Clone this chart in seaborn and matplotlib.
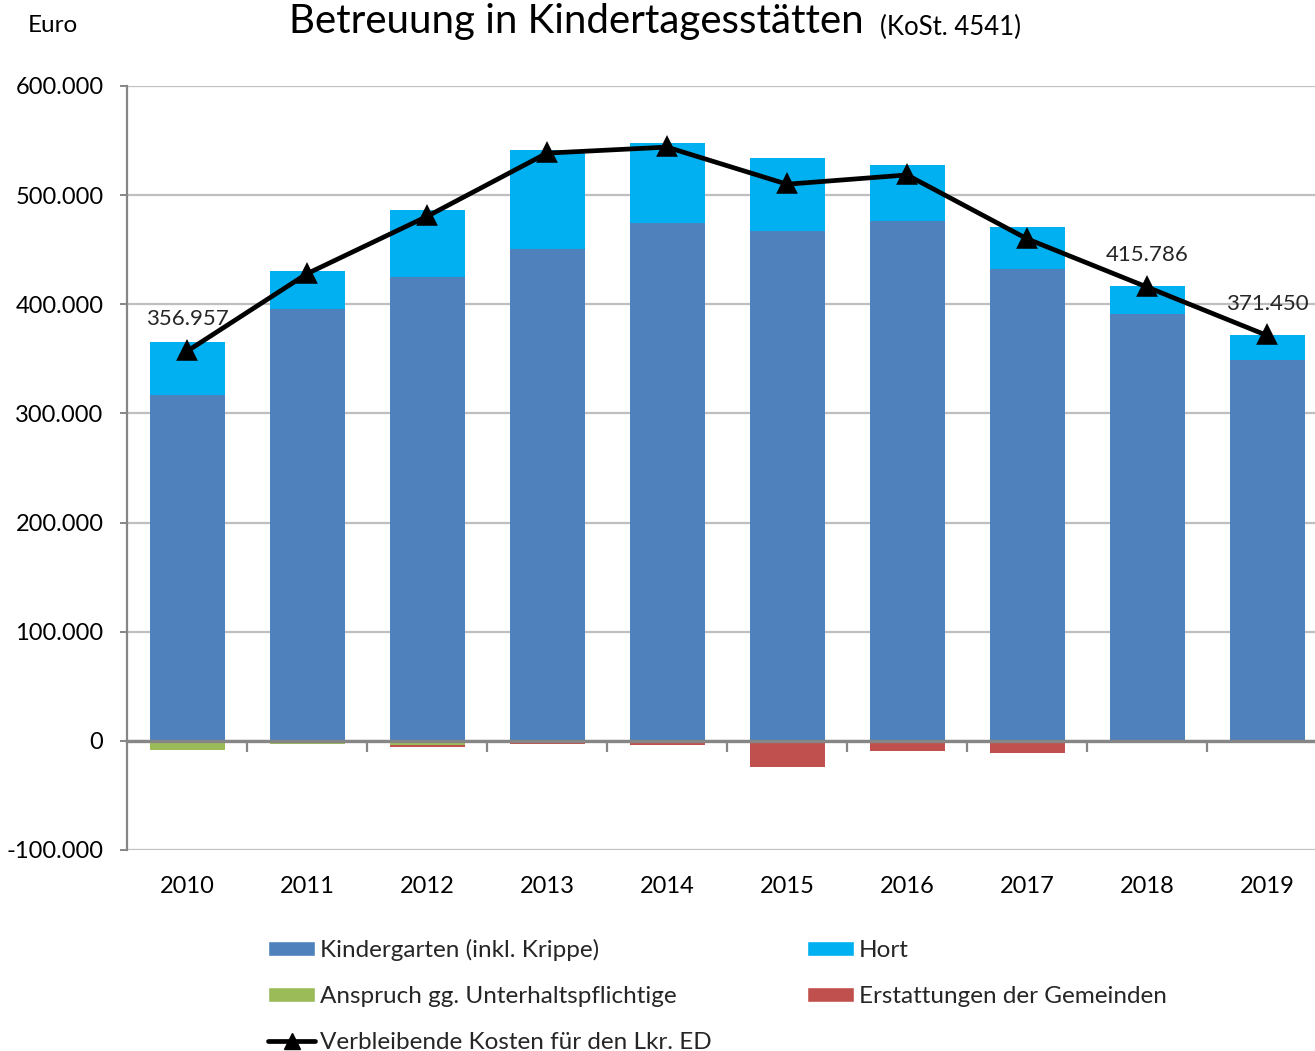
import numpy as np
import pandas as pd
import matplotlib
matplotlib.use("Agg")
import matplotlib.pyplot as plt
import seaborn as sns
from matplotlib.patches import Patch
from matplotlib.lines import Line2D
from matplotlib.ticker import FuncFormatter, FixedLocator

years = ["2010", "2011", "2012", "2013", "2014", "2015", "2016", "2017", "2018", "2019"]
kindergarten = [317000, 395500, 425000, 450500, 474500, 467000, 476000, 432500, 391000, 349000]
hort = [48500, 35000, 61500, 91000, 73500, 67000, 51500, 38500, 25786, 22450]
anspruch = [-8500, -2500, -4000, 0, 0, 0, 0, 0, 0, 0]
erstattungen = [0, 0, -2000, -3000, -4000, -24000, -9000, -11000, 0, 0]
verbleibend = [356957, 428000, 480500, 538500, 544000, 510000, 518500, 460000, 415786, 371450]
labelled_years = ["2010", "2018", "2019"]

series_names = ["Kindergarten (inkl. Krippe)", "Hort", "Anspruch gg. Unterhaltspflichtige",
                "Erstattungen der Gemeinden", "Verbleibende Kosten für den Lkr. ED"]
c_kita, c_hort, c_ansp, c_erst = "#4F81BD", "#00B0F0", "#9BBB59", "#C0504D"

sns.set_theme(style="white")
plt.rcParams["font.family"] = ["Lato", "DejaVu Sans"]

fig = plt.figure(figsize=(13.15, 10.51), dpi=100)
ax = fig.add_axes([127 / 1315, 201 / 1051, 1200 / 1315, 764 / 1051])

df = pd.DataFrame({"year": years, "kita": kindergarten, "hort": hort,
                   "ansp": anspruch, "erst": erstattungen, "rest": verbleibend})

bw = 0.625
sns.barplot(data=df, x="year", y="kita", color=c_kita, width=bw, linewidth=0,
            saturation=1, ax=ax, zorder=2)
sns.barplot(data=df, x="year", y="hort", bottom=df["kita"], color=c_hort, width=bw,
            linewidth=0, saturation=1, ax=ax, zorder=2)
sns.barplot(data=df, x="year", y="ansp", color=c_ansp, width=bw, linewidth=0,
            saturation=1, ax=ax, zorder=2)
sns.barplot(data=df, x="year", y="erst", bottom=df["ansp"], color=c_erst, width=bw,
            linewidth=0, saturation=1, ax=ax, zorder=2)
sns.pointplot(data=df, x="year", y="rest", color="black", markers="^", linestyles="-",
              markersize=11, linewidth=3.4, ax=ax, zorder=5)

def de_fmt(v, pos=None):
    s = f"{abs(int(round(v))):,}".replace(",", ".")
    return ("-" if v < 0 else "") + s

for yr, val in zip(years, verbleibend):
    if yr in labelled_years:
        i = years.index(yr)
        ax.annotate(de_fmt(val), (i, val), xytext=(0, 23), textcoords="offset points",
                    ha="center", va="center", fontsize=16, color="#262626")

ax.set_xlim(-0.5, len(years) - 0.5)
ax.set_ylim(-100000, 600000)
ax.yaxis.set_major_locator(FixedLocator(np.arange(-100000, 600001, 100000)))
ax.yaxis.set_major_formatter(FuncFormatter(de_fmt))
ax.grid(axis="y", color="#BFBFBF", linewidth=1.6, zorder=0)
ax.grid(axis="x", visible=False)
ax.set_axisbelow(True)
ax.set_xlabel("")
ax.set_ylabel("")

for s in ["top", "right"]:
    ax.spines[s].set_visible(False)
ax.spines["left"].set_color("#868686")
ax.spines["left"].set_linewidth(1.6)
ax.spines["bottom"].set_position(("data", 0))
ax.spines["bottom"].set_color("#868686")
ax.spines["bottom"].set_linewidth(2.4)
ax.spines["bottom"].set_zorder(3)

ax.tick_params(axis="y", which="major", length=5, width=1.4, color="#868686",
               labelsize=17, labelcolor="#000000", pad=12, direction="out", left=True)
ax.tick_params(axis="x", which="major", length=0, labelsize=17, labelcolor="#000000", pad=97)
ax.xaxis.set_minor_locator(FixedLocator(np.arange(0.5, len(years) - 0.5, 1.0)))
ax.tick_params(axis="x", which="minor", length=8, width=1.6, color="#868686",
               direction="out", bottom=True)

fig.text(289 / 1315, 1 - 22 / 1051, "Betreuung in Kindertagesstätten", fontsize=29,
         ha="left", va="center", color="black")
fig.text(880 / 1315, 1 - 27 / 1051, "(KoSt. 4541)", fontsize=18.5, ha="left", va="center",
         color="black")
fig.text(28 / 1315, 1 - 25 / 1051, "Euro", fontsize=17.5, ha="left", va="center", color="black")

handles = [Patch(facecolor=c_kita, label=series_names[0]),
           Patch(facecolor=c_ansp, label=series_names[2]),
           Line2D([0], [0], color="black", linewidth=3.4, marker="^", markersize=11,
                  label=series_names[4]),
           Patch(facecolor=c_hort, label=series_names[1]),
           Patch(facecolor=c_erst, label=series_names[3])]
leg = fig.legend(handles=handles, ncol=2, loc="upper left",
                 bbox_to_anchor=(246 / 1315, 1 - 917 / 1051), frameon=False,
                 fontsize=17.5, handlelength=1.95, handleheight=0.55, handletextpad=0.2,
                 labelspacing=1.03, columnspacing=3.9)

fig.savefig("out.png", dpi=100)
